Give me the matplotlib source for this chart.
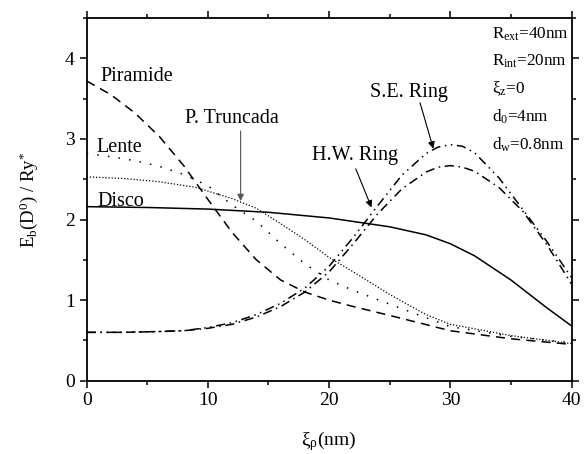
import matplotlib
matplotlib.use("Agg")
import matplotlib.pyplot as plt
from matplotlib.ticker import MultipleLocator

plt.rcParams['font.family'] = ['Liberation Serif', 'DejaVu Serif']
plt.rcParams['mathtext.fontset'] = 'custom'
plt.rcParams['mathtext.rm'] = 'Liberation Serif'
plt.rcParams['mathtext.it'] = 'Liberation Serif:italic'
plt.rcParams['mathtext.bf'] = 'Liberation Serif:bold'

# ---- data ----
disco_x = [0, 5, 10, 15, 20, 25, 28, 30, 32, 35, 38, 40]
disco_y = [2.16, 2.15, 2.13, 2.09, 2.02, 1.91, 1.81, 1.70, 1.55, 1.25, 0.90, 0.68]

pir_x = [0, 2, 4, 6, 8, 10, 12, 14, 16, 18, 20, 22, 25, 30, 35, 40]
pir_y = [3.72, 3.55, 3.32, 3.03, 2.67, 2.25, 1.84, 1.50, 1.25, 1.10, 1.00, 0.92, 0.81, 0.62, 0.52, 0.45]

lente_x = [0, 2, 4, 6, 8, 10, 12, 14, 16, 18, 20, 22, 25, 30, 35, 40]
lente_y = [2.82, 2.78, 2.73, 2.66, 2.56, 2.42, 2.18, 1.98, 1.70, 1.45, 1.25, 1.12, 0.95, 0.67, 0.55, 0.47]

pt_x = [0, 3, 6, 9, 12, 14, 16, 18, 20, 22, 25, 28, 30, 35, 40]
pt_y = [2.53, 2.51, 2.47, 2.40, 2.26, 2.14, 1.95, 1.75, 1.53, 1.35, 1.07, 0.82, 0.70, 0.56, 0.46]

ring_x = [0, 3, 6, 8, 10, 12, 14, 16, 18, 20, 22, 24, 26, 28, 29, 30, 31, 32, 34, 36, 38, 40]
se_y = [0.60, 0.60, 0.61, 0.62, 0.66, 0.72, 0.82, 0.96, 1.15, 1.42, 1.78, 2.17, 2.55, 2.82, 2.90, 2.93, 2.91, 2.83, 2.52, 2.12, 1.72, 1.28]
hw_y = [0.60, 0.60, 0.61, 0.62, 0.65, 0.70, 0.79, 0.92, 1.10, 1.35, 1.70, 2.07, 2.38, 2.59, 2.65, 2.67, 2.65, 2.60, 2.40, 2.10, 1.68, 1.20]

params = [r"R$_{\mathrm{ext}}$=40nm", r"R$_{\mathrm{int}}$=20nm",
          r"ξ$_{\mathrm{z}}$=0", r"d$_{\mathrm{0}}$=4nm", r"d$_{\mathrm{w}}$=0.8nm"]

fig = plt.figure(figsize=(5.88, 4.54), dpi=100)
ax = fig.add_axes([0.1474, 0.1615, 0.8246, 0.7985])

lw = 1.1
ax.plot(disco_x, disco_y, color='k', lw=lw, ls='-')
ax.plot(pir_x, pir_y, color='k', lw=lw, ls=(0, (6, 4)))
ax.plot(lente_x, lente_y, color='k', lw=lw, ls=(0, (1, 6)))
ax.plot(pt_x, pt_y, color='k', lw=0.9, ls=(0, (1, 1.5)))
ax.plot(ring_x, se_y, color='k', lw=lw, ls=(0, (6, 3, 1, 3, 1, 3)))
ax.plot(ring_x, hw_y, color='k', lw=lw, ls=(0, (6, 3, 1, 3)))

ax.set_xlim(0, 40)
ax.set_ylim(0, 4.5)
ax.xaxis.set_major_locator(MultipleLocator(10))
ax.xaxis.set_minor_locator(MultipleLocator(5))
ax.yaxis.set_major_locator(MultipleLocator(1))
ax.yaxis.set_minor_locator(MultipleLocator(0.5))
ax.tick_params(which='both', direction='out', top=True, right=True,
               labeltop=False, labelright=False, labelsize=14, width=1.1)
ax.tick_params(which='major', length=5)
ax.tick_params(which='minor', length=3)
for s in ax.spines.values():
    s.set_linewidth(1.3)

ax.set_xlabel(r"ξ$_{\mathrm{ρ}}$(nm)", fontsize=14, labelpad=14)
ax.set_ylabel(r"E$_{\mathrm{b}}$(D$^{\mathrm{0}}$) / Ry$^{*}$", fontsize=13.5, labelpad=18)

fs = 14.5
ax.text(1.1, 3.78, "Piramide", fontsize=fs, ha='left', va='center')
ax.text(0.8, 2.90, "Lente", fontsize=fs, ha='left', va='center')
ax.text(0.9, 2.22, "Disco", fontsize=fs, ha='left', va='center')

ap = dict(arrowstyle='-|>', lw=0.8, color='k', mutation_scale=10, shrinkA=0, shrinkB=0)
ap_g = dict(ap, color='#555555')
ax.text(12.0, 3.25, "P. Truncada", fontsize=fs, ha='center', va='center')
ax.annotate("", xy=(12.7, 2.23), xytext=(12.7, 3.10), arrowprops=ap_g)
ax.text(22.1, 2.79, "H.W. Ring", fontsize=fs, ha='center', va='center')
ax.annotate("", xy=(23.5, 2.15), xytext=(22.2, 2.63), arrowprops=ap)
ax.text(26.6, 3.58, "S.E. Ring", fontsize=fs, ha='center', va='center')
ax.annotate("", xy=(28.6, 2.88), xytext=(27.5, 3.45), arrowprops=ap)

ys = [4.30, 3.96, 3.62, 3.27, 2.93]
for t, y in zip(params, ys):
    ax.text(33.45, y, t, fontsize=12.3, ha='left', va='center')

fig.savefig("out.png", dpi=100)
